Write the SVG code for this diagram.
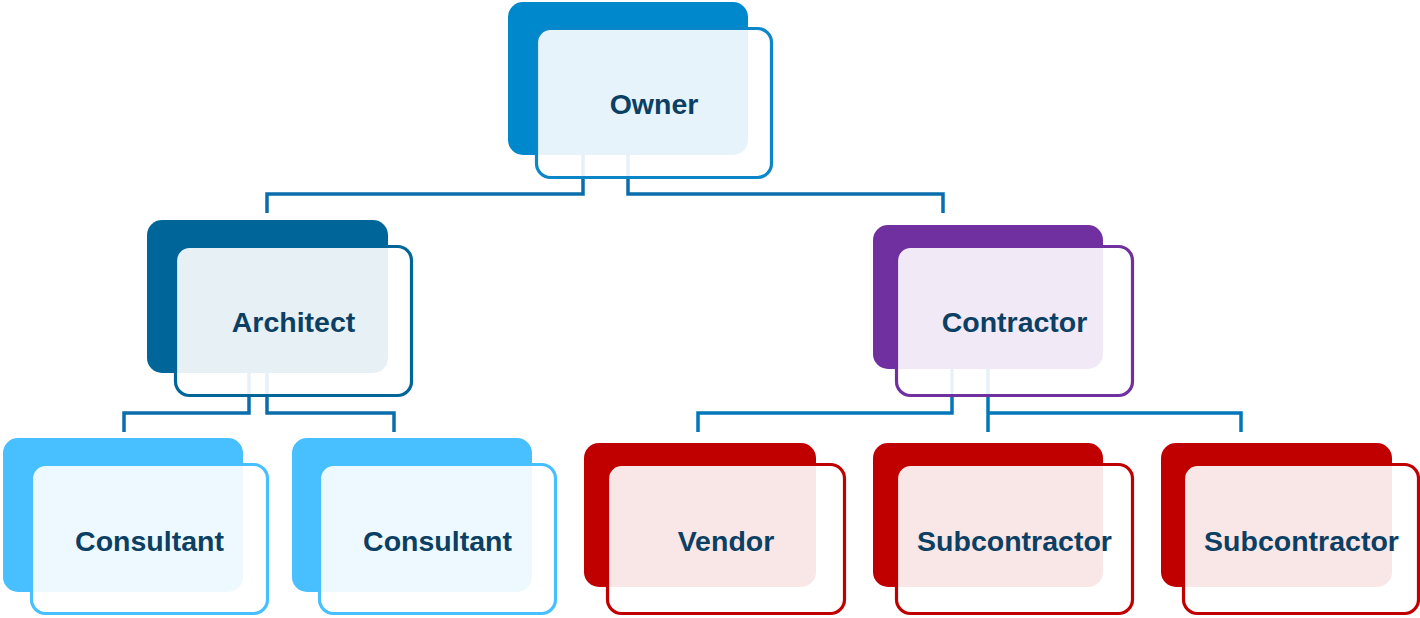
<svg xmlns="http://www.w3.org/2000/svg" width="1420" height="618" viewBox="0 0 1420 618">
  <style>
    .conn { fill: none; stroke-width: 3.5; stroke-linejoin: miter; stroke-linecap: butt; }
    .c1 { stroke: #0A6EAC; }
    .c2 { stroke: #0077B8; }
    .front { fill: #FFFFFF; fill-opacity: 0.9; stroke-width: 3.2; }
    .label { font-family: "Liberation Sans", Arial, sans-serif; font-weight: bold; font-size: 28.5px; fill: #0B3F63; text-anchor: middle; }
    .owner .back { fill: #0088CC; } .owner .front { stroke: #0A86C9; }
    .arch .back { fill: #006699; } .arch .front { stroke: #006699; }
    .contr .back { fill: #7030A0; } .contr .front { stroke: #7030A0; }
    .cons .back { fill: #48BFFF; } .cons .front { stroke: #48BFFF; }
    .red .back { fill: #C00000; } .red .front { stroke: #C00000; }
  </style>
  <g id="connectors">
    <path class="conn c1" d="M583 155 V194 H267 V213"/>
    <path class="conn c1" d="M628 155 V194 H943 V213"/>
    <path class="conn c1" d="M249 373 V413 H124 V432"/>
    <path class="conn c1" d="M267 373 V413 H394 V432"/>
    <path class="conn c2" d="M952 369 V413 H698 V432"/>
    <path class="conn c2" d="M988 369 V432"/>
    <path class="conn c2" d="M988 413 H1241 V432"/>
  </g>
  <g id="owner" class="owner">
    <rect class="back" x="508" y="2" width="240" height="153" rx="15"/>
    <rect class="front" x="536.5" y="28.5" width="235" height="149" rx="14"/>
    <text class="label" x="654" y="113.5">Owner</text>
  </g>
  <g id="architect" class="arch">
    <rect class="back" x="147" y="220" width="241" height="153" rx="15"/>
    <rect class="front" x="175.5" y="246.5" width="236" height="149" rx="14"/>
    <text class="label" x="293.5" y="331.5">Architect</text>
  </g>
  <g id="contractor" class="contr">
    <rect class="back" x="873" y="225" width="230" height="144" rx="15"/>
    <rect class="front" x="896.5" y="246.5" width="236" height="149" rx="14"/>
    <text class="label" x="1014.5" y="331.5">Contractor</text>
  </g>
  <g id="consultant1" class="cons">
    <rect class="back" x="3" y="438" width="240" height="154" rx="15"/>
    <rect class="front" x="31.5" y="464.5" width="236" height="149" rx="14"/>
    <text class="label" x="149.5" y="550.5">Consultant</text>
  </g>
  <g id="consultant2" class="cons">
    <rect class="back" x="292" y="438" width="240" height="154" rx="15"/>
    <rect class="front" x="319.5" y="464.5" width="236" height="149" rx="14"/>
    <text class="label" x="437.5" y="550.5">Consultant</text>
  </g>
  <g id="vendor" class="red">
    <rect class="back" x="584" y="443" width="232" height="144" rx="15"/>
    <rect class="front" x="607.5" y="464.5" width="237" height="149" rx="14"/>
    <text class="label" x="726" y="550.5">Vendor</text>
  </g>
  <g id="subcontractor1" class="red">
    <rect class="back" x="873" y="443" width="230" height="144" rx="15"/>
    <rect class="front" x="896.5" y="464.5" width="236" height="149" rx="14"/>
    <text class="label" x="1014.5" y="550.5">Subcontractor</text>
  </g>
  <g id="subcontractor2" class="red">
    <rect class="back" x="1161" y="443" width="231" height="144" rx="15"/>
    <rect class="front" x="1183.5" y="464.5" width="235" height="149" rx="14"/>
    <text class="label" x="1301.5" y="550.5">Subcontractor</text>
  </g>
</svg>
